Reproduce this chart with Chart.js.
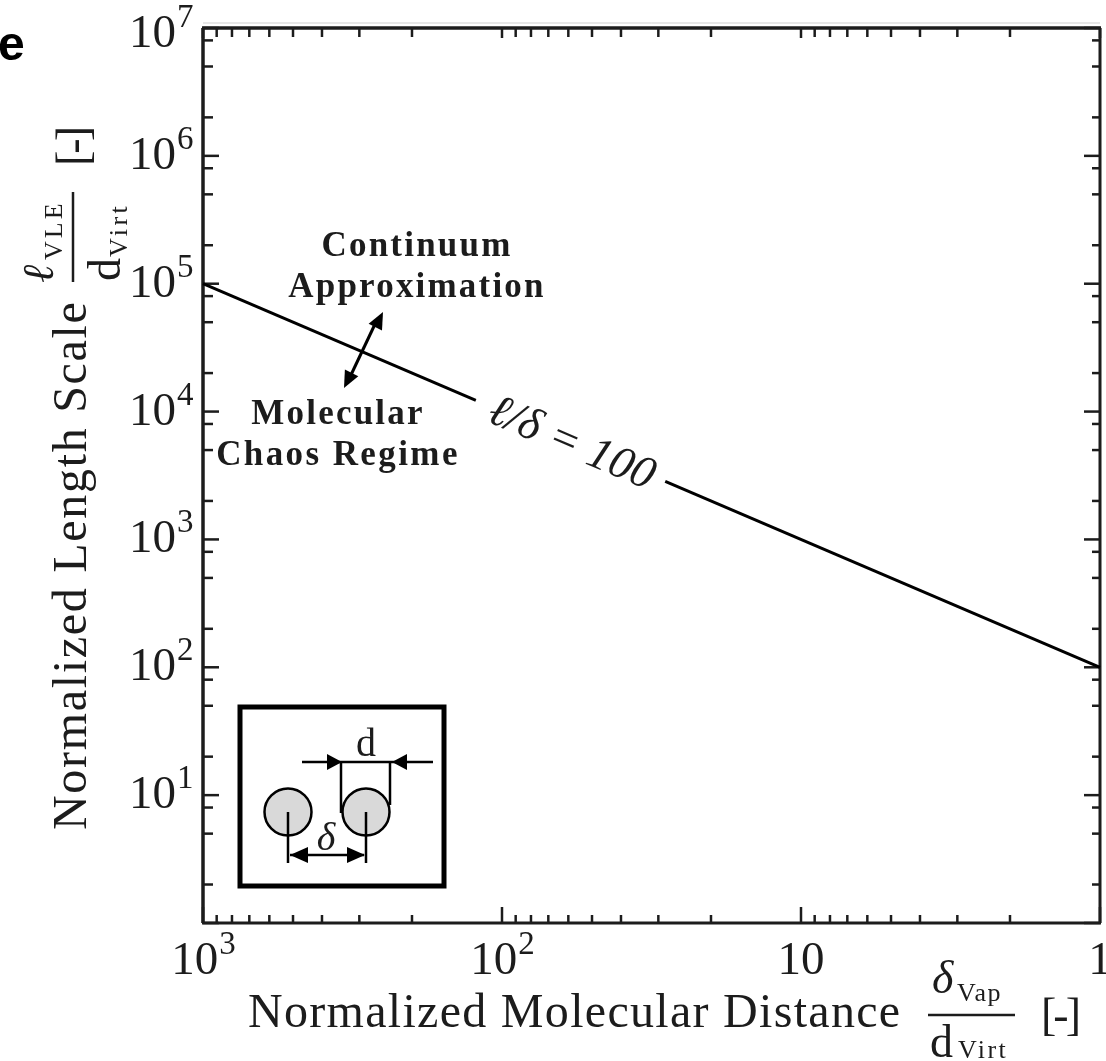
<!DOCTYPE html>
<html><head><meta charset="utf-8">
<script src="https://cdn.jsdelivr.net/npm/chart.js@4/dist/chart.umd.min.js"></script>
<style>html,body{margin:0;padding:0;background:#fff}canvas{display:block}</style>
</head><body><canvas id="c" width="1106" height="1061"></canvas>
<script>
const lineDelta = [1000, 1];
const lineEll = [100000, 100];
const xMajor = [1000, 100, 10, 1];
const xTickBase = ['10', '10', '10', '1'];
const xTickExp = ['3', '2', '', ''];
const yMajor = [1e7, 1e6, 1e5, 1e4, 1e3, 100, 10];
const yTickExp = ['7', '6', '5', '4', '3', '2', '1'];
const xMinorFactors = [2, 3, 4, 5, 6, 7, 8, 9];
const yMinorFactors = [2, 5, 8];
const labelAnchor = { x: 59, y: 5900 };
const SERIF = '"Liberation Serif"';
const INK = '#1c1c1c';

function text(ctx, s, x, y, font, align, spacing) {
  ctx.font = font; ctx.textAlign = align || 'left'; ctx.textBaseline = 'alphabetic';
  ctx.letterSpacing = (spacing || 0) + 'px';
  ctx.fillText(s, x, y);
  ctx.letterSpacing = '0px';
}
function line(ctx, x1, y1, x2, y2, w) {
  ctx.lineWidth = w; ctx.beginPath(); ctx.moveTo(x1, y1); ctx.lineTo(x2, y2); ctx.stroke();
}
function head(ctx, tx, ty, fx, fy, len, wid) {
  const a = Math.atan2(ty - fy, tx - fx);
  ctx.beginPath(); ctx.moveTo(tx, ty);
  ctx.lineTo(tx - len * Math.cos(a) - wid / 2 * Math.sin(a), ty - len * Math.sin(a) + wid / 2 * Math.cos(a));
  ctx.lineTo(tx - len * Math.cos(a) + wid / 2 * Math.sin(a), ty - len * Math.sin(a) - wid / 2 * Math.cos(a));
  ctx.closePath(); ctx.fill();
}

const framePlugin = {
  id: 'frame',
  beforeDatasetsDraw(chart) {
    const { ctx, chartArea: a, scales: { x, y } } = chart;
    ctx.save(); ctx.strokeStyle = INK; ctx.fillStyle = INK;
    ctx.strokeStyle = '#cfcfcf'; line(ctx, a.left, a.top - 5, a.right, a.top - 5, 1);
    ctx.strokeStyle = INK;
    const maj = 16, min = 8;
    xMajor.forEach(v => {
      const p = x.getPixelForValue(v);
      line(ctx, p, a.bottom, p, a.bottom - maj, 2.5);
      line(ctx, p, a.top, p, a.top + maj - 6, 2.5);
      if (v < 1000) xMinorFactors.forEach(f => {
        const q = x.getPixelForValue(v * f);
        line(ctx, q, a.bottom, q, a.bottom - min, 2.5);
        line(ctx, q, a.top, q, a.top + min + 1, 2.5);
      });
    });
    [...yMajor, 1].forEach(v => {
      const p = y.getPixelForValue(v);
      line(ctx, a.left, p, a.left + maj, p, 2.5);
      line(ctx, a.right, p, a.right - maj, p, 2.5);
      if (v < 1e7) yMinorFactors.forEach(f => {
        const q = y.getPixelForValue(v * f);
        line(ctx, a.left, q, a.left + min + 2, q, 2.5);
        line(ctx, a.right, q, a.right - min, q, 2.5);
      });
    });
    line(ctx, a.left - 1, a.top, a.right + 1, a.top, 3.5);
    line(ctx, a.left - 1, a.bottom, a.right + 1, a.bottom, 3);
    line(ctx, a.left, a.top, a.left, a.bottom, 3.5);
    line(ctx, a.right, a.top, a.right, a.bottom, 3);
    ctx.restore();
  },
  afterDatasetsDraw(chart) {
    const { ctx, chartArea: a, scales: { x, y } } = chart;
    ctx.save(); ctx.fillStyle = INK; ctx.strokeStyle = INK;

    const ang = Math.atan2(y.getPixelForValue(lineEll[1]) - y.getPixelForValue(lineEll[0]),
      x.getPixelForValue(lineDelta[1]) - x.getPixelForValue(lineDelta[0]));
    ctx.save();
    ctx.translate(x.getPixelForValue(labelAnchor.x), y.getPixelForValue(labelAnchor.y));
    ctx.rotate(ang);
    ctx.fillStyle = '#fff'; ctx.fillRect(-103, -30, 206, 60);
    ctx.fillStyle = INK;
    text(ctx, 'ℓ/δ = 100', 2, 15, 'italic 46px ' + SERIF, 'center');
    ctx.restore();

    const bigF = '47px ' + SERIF, supF = '33px ' + SERIF;
    yMajor.forEach((v, i) => {
      const p = y.getPixelForValue(v) + (i === 0 ? 19 : 13);
      text(ctx, '10', 176, p, bigF, 'right');
      text(ctx, yTickExp[i], 177, p - 20, supF, 'left');
    });
    xMajor.forEach((v, i) => {
      const px = x.getPixelForValue(v), by = 974;
      ctx.font = bigF; const w1 = ctx.measureText(xTickBase[i]).width;
      ctx.font = supF; const w2 = xTickExp[i] ? ctx.measureText(xTickExp[i]).width : 0;
      const l = px - (w1 + w2) / 2;
      text(ctx, xTickBase[i], l, by, bigF, 'left');
      if (w2) text(ctx, xTickExp[i], l + w1 + 1, by - 20, supF, 'left');
    });

    text(ctx, 'Normalized Molecular Distance', 248, 1027, '48px ' + SERIF, 'left', 1.3);
    text(ctx, 'δ', 932, 993, 'italic 46px ' + SERIF);
    text(ctx, 'Vap', 957, 1001, '26px ' + SERIF, 'left', 1.5);
    line(ctx, 928, 1015, 1015, 1015, 2.5);
    text(ctx, 'd', 930, 1057, '46px ' + SERIF);
    text(ctx, 'Virt', 958, 1058, '26px ' + SERIF, 'left', 2.5);
    text(ctx, '[-]', 1041, 1030, '46px ' + SERIF, 'left', -3);

    ctx.save();
    ctx.rotate(-Math.PI / 2);
    text(ctx, 'Normalized Length Scale', -830, 86, '48px ' + SERIF, 'left', 1.7);
    text(ctx, 'ℓ', -283, 53, 'italic 44px ' + SERIF);
    text(ctx, 'VLE', -260, 62, '26px ' + SERIF, 'left', 3);
    line(ctx, -282, 73, -192, 73, 2.5);
    text(ctx, 'd', -281, 120, '46px ' + SERIF);
    text(ctx, 'Virt', -257, 127, '26px ' + SERIF, 'left', 3.5);
    text(ctx, '[-]', -166, 88, '46px ' + SERIF, 'left', -3);
    ctx.restore();

    const b = 'bold 35px ' + SERIF;
    text(ctx, 'Continuum', 417, 256, b, 'center', 2.2);
    text(ctx, 'Approximation', 417, 297, b, 'center', 2.2);
    text(ctx, 'Molecular', 338, 424, b, 'center', 2.2);
    text(ctx, 'Chaos Regime', 338, 465, b, 'center', 2.4);
    ctx.fillStyle = '#000'; ctx.strokeStyle = '#000';
    line(ctx, 376, 322, 350, 377, 3);
    head(ctx, 383, 312, 345, 387, 17, 15);
    head(ctx, 344, 388, 382, 312, 17, 15);

    text(ctx, 'e', -2, 60, 'bold 48px "Liberation Sans"');

    ctx.lineWidth = 5; ctx.strokeRect(240, 707, 204, 179);
    [288, 366].forEach(cx => {
      ctx.beginPath(); ctx.arc(cx, 812, 23.5, 0, Math.PI * 2);
      ctx.fillStyle = '#d9d9d9'; ctx.fill(); ctx.lineWidth = 2.5; ctx.stroke();
      line(ctx, cx, 812, cx, 863, 2.5);
    });
    ctx.fillStyle = '#000';
    line(ctx, 302, 762, 433, 762, 2.5);
    head(ctx, 342, 762, 302, 762, 15, 16);
    head(ctx, 392, 762, 433, 762, 15, 16);
    line(ctx, 341, 762, 341, 813, 2.5);
    line(ctx, 390, 762, 390, 805, 2.5);
    line(ctx, 290, 855, 364, 855, 2.5);
    head(ctx, 290, 855, 364, 855, 18, 16);
    head(ctx, 365, 855, 290, 855, 18, 16);
    ctx.fillStyle = INK;
    text(ctx, 'd', 366, 756, '40px ' + SERIF, 'center');
    text(ctx, 'δ', 326, 850, 'italic 40px ' + SERIF, 'center');
    ctx.restore();
  }
};

new Chart(document.getElementById('c'), {
  type: 'scatter',
  data: { datasets: [{
    data: lineDelta.map((d, i) => ({ x: d, y: lineEll[i] })),
    showLine: true, borderColor: '#000', borderWidth: 3, pointRadius: 0, tension: 0, clip: false
  }] },
  options: {
    responsive: false, animation: false, events: [],
    layout: { padding: { left: 203, right: 6, top: 28, bottom: 138 } },
    plugins: { legend: { display: false }, tooltip: { enabled: false }, title: { display: false } },
    scales: {
      x: { type: 'logarithmic', reverse: true, min: 1, max: 1000, display: false },
      y: { type: 'logarithmic', min: 1, max: 1e7, display: false }
    }
  },
  plugins: [framePlugin]
});
</script></body></html>
